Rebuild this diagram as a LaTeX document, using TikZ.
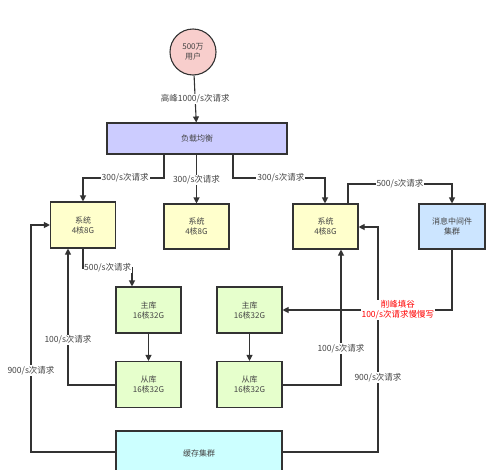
\documentclass[tikz,border=0pt]{standalone}
\usepackage{fontspec}
\setmainfont{Noto Sans CJK SC}
\usetikzlibrary{arrows.meta}
\definecolor{edge}{HTML}{333333}
\definecolor{txt}{HTML}{444444}
\tikzset{
  box/.style={draw=edge, line width=1.1pt, align=center, font=\fontsize{8}{10}\selectfont, text=txt, inner sep=0pt},
  conn/.style={draw=edge, line width=1.1pt, -{Triangle[length=6pt,width=6pt]}},
  plain/.style={draw=edge, line width=1.1pt},
  lbl/.style={fill=white, inner sep=1pt, font=\fontsize{8.5}{10}\selectfont, text=txt},
  rlbl/.style={fill=white, inner sep=1pt, font=\fontsize{8.5}{10}\selectfont, text=red, align=center},
}
\begin{document}
\begin{tikzpicture}[x=1pt,y=-1pt]
\useasboundingbox (0,0) rectangle (500,469);
\clip (0,0) rectangle (500,469);
% nodes
\node[box, circle, fill={rgb,255:red,248;green,206;blue,204}, minimum size=46pt] (user) at (193,52) {500万\\用户};
\node[box, fill={rgb,255:red,204;green,204;blue,255}, minimum width=180pt, minimum height=31pt] (lb) at (197,138.5) {负载均衡};
\node[box, fill={rgb,255:red,255;green,255;blue,204}, minimum width=65pt, minimum height=46pt] (s1) at (83,225) {系统\\4核8G};
\node[box, fill={rgb,255:red,255;green,255;blue,204}, minimum width=65pt, minimum height=45pt] (s2) at (196.5,226.5) {系统\\4核8G};
\node[box, fill={rgb,255:red,255;green,255;blue,204}, minimum width=65pt, minimum height=45pt] (s3) at (325.5,226.5) {系统\\4核8G};
\node[box, fill={rgb,255:red,204;green,229;blue,255}, minimum width=66pt, minimum height=45pt] (mq) at (452,226.5) {消息中间件\\集群};
\node[box, fill={rgb,255:red,230;green,255;blue,204}, minimum width=65pt, minimum height=46pt] (m1) at (148.5,310) {主库\\16核32G};
\node[box, fill={rgb,255:red,230;green,255;blue,204}, minimum width=65pt, minimum height=46pt] (d1) at (148.5,384.5) {从库\\16核32G};
\node[box, fill={rgb,255:red,230;green,255;blue,204}, minimum width=65pt, minimum height=46pt] (m2) at (249.5,310) {主库\\16核32G};
\node[box, fill={rgb,255:red,230;green,255;blue,204}, minimum width=65pt, minimum height=46pt] (d2) at (249.5,384.5) {从库\\16核32G};
\node[box, fill={rgb,255:red,204;green,255;blue,255}, minimum width=166pt, minimum height=44pt] (cache) at (199,453) {缓存集群};
% helper coordinates
\coordinate (c1a) at (164,178);
\coordinate (c1b) at (83,178);
\coordinate (c3a) at (233,178);
\coordinate (c3b) at (325,178);
\coordinate (cqa) at (348,184);
\coordinate (cqb) at (452,184);
\coordinate (cma) at (83,268);
\coordinate (cmb) at (132,268);
\coordinate (cda) at (68,385);
\coordinate (cdb) at (341,385);
\coordinate (cca) at (31,452);
\coordinate (ccb) at (31,225);
\coordinate (cra) at (378,452);
\coordinate (crb) at (378,227);
\coordinate (cwa) at (452,310);
% connectors
\draw[conn] (user) -- node[lbl]{高峰1000/s次请求} (lb);
\draw[conn] (lb.south -| c1a) -- (c1a) -- node[lbl, pos=0.48]{300/s次请求} (c1b) -- (s1.north -| c1b);
\draw[conn] (lb.south -| s2) -- node[lbl, pos=0.52]{300/s次请求} (s2.north);
\draw[conn] (lb.south -| c3a) -- (c3a) -- node[lbl, pos=0.52]{300/s次请求} (c3b) -- (s3.north -| c3b);
\draw[conn] (s3.north -| cqa) -- (cqa) -- node[lbl, pos=0.5]{500/s次请求} (cqb) -- (mq.north);
\draw[conn] (s1.south -| cma) -- (cma) -- (cmb) -- (m1.north -| cmb);
\node[lbl, anchor=west, inner sep=0.5pt] (l500) at (83.5,268) {500/s次请求};
\draw[conn] (m1) -- (d1);
\draw[conn] (m2) -- (d2);
\draw[conn] (d1.west |- cda) -- (cda) -- node[lbl, pos=0.33]{100/s次请求} (s1.south -| cda);
\draw[conn] (d2.east |- cdb) -- (cdb) -- node[lbl, pos=0.27]{100/s次请求} (s3.south -| cdb);
\draw[conn] (cache.west |- cca) -- (cca) -- node[lbl, pos=0.36]{900/s次请求} (ccb) -- (s1.west |- ccb);
\draw[conn] (cache.east |- cra) -- (cra) -- node[lbl, pos=0.33]{900/s次请求} (crb) -- (s3.east |- crb);
\draw[conn] (mq.south) -- (cwa) -- node[rlbl, pos=0.32]{削峰填谷\\100/s次请求慢慢写} (m2.east |- cwa);
\end{tikzpicture}
\end{document}
